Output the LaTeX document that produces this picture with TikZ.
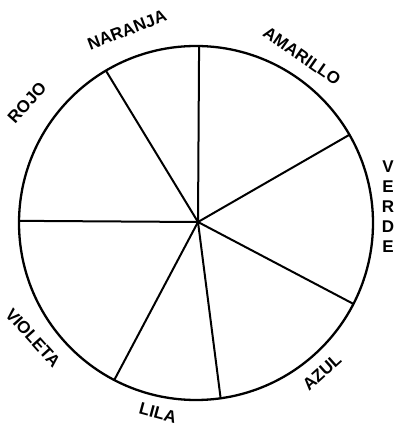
\documentclass[tikz,border=0pt]{standalone}
\usepackage{fontspec}
\setmainfont{Liberation Sans}
\usepackage{tikz}
\usetikzlibrary{calc}

\begin{document}
\begin{tikzpicture}[x=1pt, y=1pt, every node/.style={font=\fontsize{17}{20}\selectfont\bfseries, inner sep=0pt}]
  \useasboundingbox (0,0) rectangle (394,426);
  \coordinate (o) at (196,203);
  \coordinate (c) at (198,204);
  \draw[line width=2.3pt] (o) circle (177);
  \coordinate (p1) at ($(o)+(89:177)$);
  \coordinate (p2) at ($(o)+(120.6:177)$);
  \coordinate (p3) at ($(o)+(179.3:177)$);
  \coordinate (p4) at ($(o)+(242.5:177)$);
  \coordinate (p5) at ($(o)+(278:177)$);
  \coordinate (p6) at ($(o)+(332.8:177)$);
  \coordinate (p7) at ($(o)+(29.9:177)$);
  \draw[line width=2pt] (c) -- (p1);
  \draw[line width=2pt] (c) -- (p2);
  \draw[line width=2pt] (c) -- (p3);
  \draw[line width=2pt] (c) -- (p4);
  \draw[line width=2pt] (c) -- (p5);
  \draw[line width=2pt] (c) -- (p6);
  \draw[line width=2pt] (c) -- (p7);
  \node[rotate=21] (naranja) at (127,396) {NARANJA};
  \node[rotate=-35] (amarillo) at (302,370) {AMARILLO};
  \node[rotate=48] (rojo) at (27,323) {ROJO};
  \node[align=center] (verde) at (388,219) {V\\E\\R\\D\\E};
  \node[rotate=-48] (violeta) at (33,88) {VIOLETA};
  \node[rotate=-15] (lila) at (158,13) {LILA};
  \node[rotate=42] (azul) at (322,54) {AZUL};
\end{tikzpicture}
\end{document}
